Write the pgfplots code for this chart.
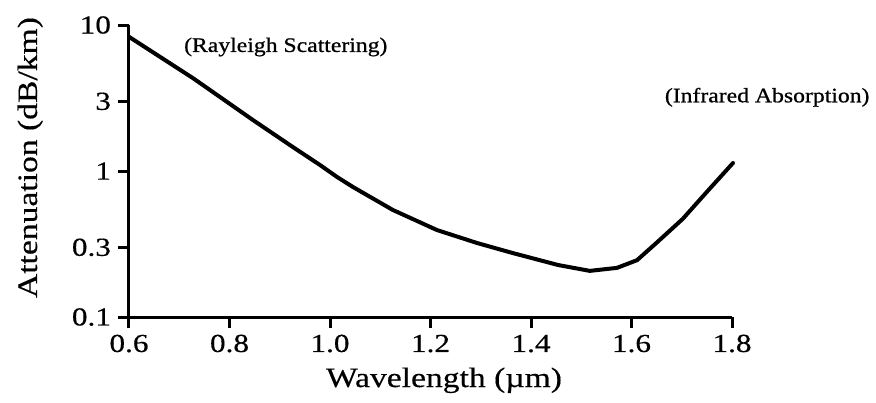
\documentclass[border=0pt]{standalone}
\usepackage{fontspec}
\setmainfont{Liberation Serif}[FakeStretch=1.2, FakeBold=0.4]
\newfontfamily\annfont{Liberation Serif}[FakeStretch=1.15, FakeBold=0.8]
\usepackage{pgfplots}
\pgfplotsset{compat=1.18}
\begin{document}
\begin{tikzpicture}
\begin{axis}[
  at={(0,0)}, anchor=south west,
  scale only axis,
  width=301.5pt, height=146pt,
  xmin=0.6, xmax=1.8,
  ymode=log, log basis y=10,
  ymin=0.1, ymax=10,
  axis x line*=bottom, axis y line*=left,
  axis line style={-, line width=1.5pt, black},
  xtick={0.6,0.8,1.0,1.2,1.4,1.6,1.8},
  xticklabels={0.6,0.8,1.0,1.2,1.4,1.6,1.8},
  ytick={0.1,0.3,1,3,10},
  yticklabels={0.1,0.3,1,3,10},
  minor tick num=0,
  /pgf/number format/assume math mode=true,
  tick align=outside,
  major tick length=5.5pt,
  tick style={line width=1.5pt, black},
  ticklabel style={font=\fontsize{13}{15}\selectfont},
  xticklabel style={anchor=base, yshift=-12pt},
  yticklabel style={anchor=east},
  xlabel={Wavelength (µm)},
  ylabel={Attenuation (dB/km)},
  label style={font=\fontsize{14}{16}\selectfont},
  xlabel style={anchor=base, at={(axis description cs:0.5224,-0.2397)}},
  ylabel style={anchor=base, at={(axis description cs:-0.1526,0.546)}},
  clip=false,
]
\addplot[black, line width=2pt, line join=round, line cap=round] coordinates {
  (0.6,8.3) (0.728,4.31) (0.847,2.23) (0.926,1.46) (0.98,1.10)
  (1.014,0.91) (1.046,0.776) (1.125,0.541) (1.213,0.394) (1.293,0.321)
  (1.364,0.274) (1.454,0.227) (1.517,0.207) (1.571,0.217) (1.611,0.245)
  (1.651,0.325) (1.702,0.470) (1.750,0.72) (1.802,1.135)
};
\node[font=\annfont\fontsize{10.3}{12}\selectfont] at (axis cs:0.912,7.07) {(Rayleigh Scattering)};
\node[font=\annfont\fontsize{10.3}{12}\selectfont] at (axis cs:1.870,3.2) {(Infrared Absorption)};
\end{axis}
\pgfresetboundingbox
\path[use as bounding box] (-64.5pt,-42.5pt) rectangle (373.5pt,158.5pt);
\end{tikzpicture}
\end{document}
